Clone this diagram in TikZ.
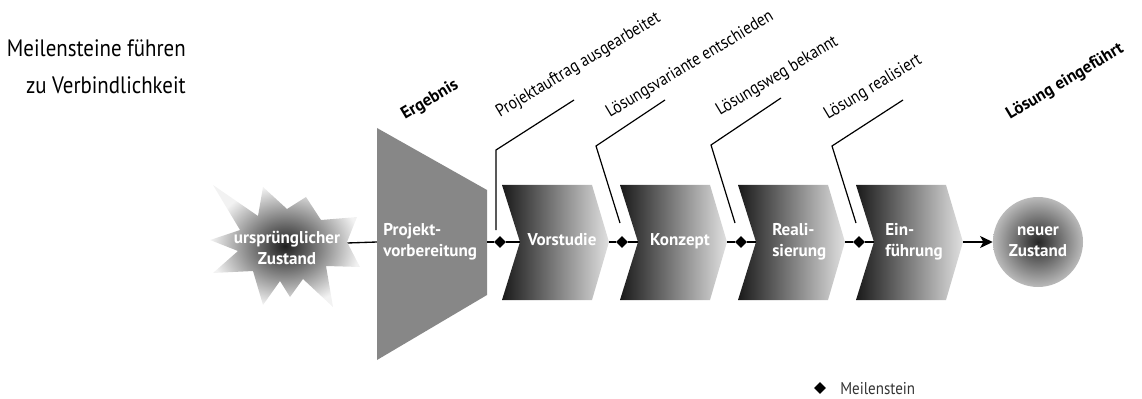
\documentclass[tikz,border=0pt]{standalone}
\usepackage{fontspec}
\setmainfont{PT Sans}
\newfontfamily\narrowsans{PT Sans}[FakeStretch=0.88]
\usetikzlibrary{shapes.geometric,arrows.meta}
\begin{document}
\begin{tikzpicture}[x=0.75pt,y=-0.75pt,
  milestone/.style={diamond,fill=black,inner sep=0pt,minimum width=9pt,minimum height=9pt},
  phase/.style={left color=black!90,right color=black!12},
  whitetext/.style={text=white,font=\fontsize{12.8}{16}\selectfont\bfseries,inner sep=0pt},
  tag/.style={rotate=31,anchor=base west,inner sep=0pt,font=\narrowsans\fontsize{13.2}{15}\selectfont},
  boldtag/.style={rotate=31,anchor=base west,inner sep=0pt,font=\fontsize{12.8}{15}\selectfont\bfseries},
  link/.style={line width=1pt},
  leader/.style={line width=0.9pt},
]
\useasboundingbox (0,0) rectangle (1142,399);

% heading
\node[anchor=east,align=right,inner sep=0pt,font=\narrowsans\fontsize{17.8}{27.75}\selectfont]
  (title) at (186,67) {Meilensteine führen\\zu Verbindlichkeit};

% reference points on the flow line
\coordinate (starC) at (287,245);
\coordinate (trapW) at (377,242);
\coordinate (trapE) at (487,242);

% link from the initial state into the preparation phase (under both shapes)
\draw[link] (starC) -- (trapW);

% initial state: starburst
\shade[inner color=black!88,outer color=black!5]
  (213,185) -- (258,216) -- (263,187) -- (287,209) -- (306,197) -- (321,220)
  -- (357,217) -- (347,242) -- (360,267) -- (326,266) -- (333,307) -- (303,279)
  -- (290,297) -- (280,281) -- (263,305) -- (253,271) -- (213,273) -- (238,251)
  -- (210,240) -- (240,230) -- cycle;
\node[whitetext,align=center] (start) at (287,248) {ursprünglicher\\Zustand};

% preparation phase: funnel
\fill[black!47] (377,128) -- (487,190) -- (487,295) -- (377,360) -- cycle;
\node[whitetext,align=left,anchor=west] (prep) at (383,242) {Projekt-\\vorbereitung};

% phases as shaded chevrons
\foreach \x/\n in {502/1,620/2,738/3,856/4}{
  \shade[phase] (\x,185) -- ++(90,0) -- ++(17,57) -- ++(-17,58) -- ++(-90,0) -- ++(18,-58) -- cycle;
  \coordinate (n\n) at (\x+18,242);
  \coordinate (t\n) at (\x+107,242);
}
\node[whitetext,anchor=base] (vs) at (562,245) {Vorstudie};
\node[whitetext,anchor=base] (ko) at (680,245) {Konzept};
\node[whitetext,align=left,anchor=west] (re) at (772,242) {Reali-\\sierung};
\node[whitetext,align=left,anchor=west] (ei) at (885,242) {Ein-\\führung};

% final state
\node[circle,minimum size=67.5pt,inner sep=0pt,inner color=black!85,outer color=black!27,
      whitetext,align=center] (goal) at (1038,242) {neuer\\Zustand};

% milestones
\node[milestone] (m1) at (500,242) {};
\node[milestone] (m2) at (622,242) {};
\node[milestone] (m3) at (741,242) {};
\node[milestone] (m4) at (859,242) {};

\draw[link] (trapE) -- (m1) -- (n1);
\draw[link] (t1) -- (m2) -- (n2);
\draw[link] (t2) -- (m3) -- (n3);
\draw[link] (t3) -- (m4) -- (n4);
\draw[link,-{Stealth[length=9.5pt,width=9pt,inset=2.5pt]}] (t4) -- (goal);

% milestone leaders
\draw[leader] (496,230) -- (496,150) -- (574,100);
\draw[leader] (620,223) -- (596,146) -- (665,100);
\draw[leader] (735,223) -- (711,145) -- (781,98);
\draw[leader] (856,223) -- (832,146) -- (903,100);

% milestone labels
\node[boldtag] (erg) at (405,120) {Ergebnis};
\node[tag] (l1) at (500,118) {Projektauftrag ausgearbeitet};
\node[tag] (l2) at (610,118) {Lösungsvariante entschieden};
\node[tag] (l3) at (720,116) {Lösungsweg bekannt};
\node[tag] (l4) at (828,120) {Lösung realisiert};
\node[boldtag] (done) at (1010,120) {Lösung eingeführt};

% legend
\node[milestone] (key) at (820,388) {};
\node[anchor=west,inner sep=0pt,text=black!80,font=\narrowsans\fontsize{12.8}{14}\selectfont]
  (keytext) at (840,389) {Meilenstein};
\end{tikzpicture}
\end{document}
